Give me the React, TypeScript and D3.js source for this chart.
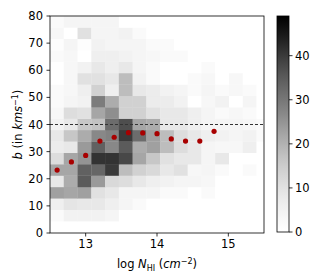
import React from 'react';
import * as d3 from 'd3';

// bin edges of the 2D histogram
const xEdges = [12.5, 12.693, 12.886, 13.079, 13.272, 13.465, 13.658, 13.851, 14.044, 14.237, 14.43, 14.623, 14.816, 15.009, 15.202, 15.395, 15.588];
const bEdges = [0.2, 4.4, 8.6, 12.8, 17.0, 21.2, 25.4, 29.6, 33.8, 38.0, 42.2, 46.4, 50.6, 54.8, 59.0, 63.2, 67.4, 71.6, 75.8, 80.0];

// counts[row][col], row 0 = lowest b bin
const counts = [
  [0, 0, 0, 0, 0, 0, 0, 0, 0, 0, 0, 0, 0, 0, 0, 0],
  [2, 5, 5, 5, 4, 0, 0, 0, 0, 0, 0, 0, 0, 0, 0, 0],
  [6, 9, 8, 8, 6, 4, 2, 0, 0, 0, 0, 0, 0, 0, 0, 0],
  [23, 22, 23, 10, 8, 4, 4, 4, 2, 2, 0, 2, 0, 0, 0, 0],
  [8, 21, 35, 24, 12, 11, 8, 6, 5, 4, 4, 3, 0, 0, 0, 0],
  [22, 22, 34, 33, 40, 18, 14, 12, 8, 10, 3, 4, 2, 0, 2, 0],
  [11, 22, 25, 41, 41, 38, 22, 16, 10, 8, 8, 4, 8, 0, 0, 0],
  [7, 8, 24, 34, 27, 35, 21, 23, 18, 11, 8, 4, 3, 3, 6, 0],
  [8, 16, 21, 27, 28, 40, 32, 23, 18, 11, 8, 6, 5, 4, 5, 2],
  [5, 8, 16, 17, 32, 37, 22, 21, 8, 8, 6, 4, 4, 4, 3, 2],
  [3, 11, 10, 22, 26, 14, 14, 10, 8, 8, 6, 4, 2, 3, 2, 0],
  [2, 4, 5, 29, 21, 14, 14, 7, 7, 5, 0, 3, 5, 0, 4, 0],
  [2, 3, 6, 14, 6, 18, 8, 7, 5, 4, 2, 4, 2, 3, 2, 0],
  [0, 3, 10, 10, 8, 18, 5, 2, 0, 0, 2, 3, 0, 3, 0, 0],
  [0, 3, 5, 8, 6, 8, 4, 2, 0, 0, 0, 2, 0, 0, 0, 0],
  [2, 3, 0, 6, 6, 5, 4, 3, 2, 2, 0, 0, 0, 0, 0, 0],
  [1, 4, 1, 5, 4, 4, 4, 2, 2, 0, 0, 0, 0, 0, 0, 0],
  [3, 0, 10, 4, 4, 5, 2, 0, 0, 0, 0, 0, 0, 0, 0, 0],
  [2, 4, 4, 4, 4, 0, 0, 0, 0, 0, 0, 0, 0, 0, 0, 0],
];

// binned medians (red dots)
const medLogN = [12.6, 12.8, 13.0, 13.2, 13.4, 13.6, 13.8, 14.0, 14.2, 14.4, 14.6, 14.8];
const medB = [23.2, 26.2, 28.6, 33.9, 35.3, 37.0, 36.9, 36.6, 34.7, 33.9, 33.9, 37.5];

const bCut = 40;
const xTicks = [13, 14, 15];
const bTicks = [0, 10, 20, 30, 40, 50, 60, 70, 80];
const cbarTicks = [0, 10, 20, 30, 40];
const cbarMax = 49;

const W = 314, H = 278;
const m = { left: 50, right: 264, top: 16, bottom: 233 };
const cb = { x: 277, w: 12 };
const font = "'DejaVu Sans', sans-serif";

export default function App() {
  const x = d3.scaleLinear().domain([12.5, 15.5]).range([m.left, m.right]);
  const y = d3.scaleLinear().domain([0, 80]).range([m.bottom, m.top]);
  const c = d3.scaleSequential(d3.interpolateGreys).domain([0, cbarMax]);
  const cy = d3.scaleLinear().domain([0, cbarMax]).range([m.bottom - 1, m.top]);

  const cells: { x0: number; x1: number; y0: number; y1: number; v: number }[] = [];
  counts.forEach((row, r) =>
    row.forEach((v, k) => {
      cells.push({ x0: xEdges[k], x1: xEdges[k + 1], y0: bEdges[r], y1: bEdges[r + 1], v });
    })
  );

  const stops = d3.range(0, 1.0001, 0.05);

  return (
    <svg width={W} height={H} style={{ position: 'absolute', left: 0, top: 0 }} fontFamily={font}>
      <defs>
        <clipPath id="plot">
          <rect x={m.left} y={m.top} width={m.right - m.left} height={m.bottom - m.top} />
        </clipPath>
        <linearGradient id="cbar" x1="0" y1="1" x2="0" y2="0">
          {stops.map((t) => (
            <stop key={t} offset={t} stopColor={d3.interpolateGreys(t)} />
          ))}
        </linearGradient>
      </defs>

      <rect x={m.left} y={m.top} width={m.right - m.left} height={m.bottom - m.top} fill="#fff" />
      <g clipPath="url(#plot)">
        {cells.map((d, i) => (
          <rect
            key={i}
            x={x(d.x0)}
            y={y(d.y1)}
            width={x(d.x1) - x(d.x0) + 0.3}
            height={y(d.y0) - y(d.y1) + 0.3}
            fill={c(d.v)}
          />
        ))}
        <line x1={m.left} x2={m.right} y1={y(bCut)} y2={y(bCut)} stroke="#333" strokeWidth={1} strokeDasharray="3,2" />
        {medLogN.map((v, i) => (
          <circle key={i} cx={x(v)} cy={y(medB[i])} r={2.6} fill="#a80000" />
        ))}
      </g>
      <rect x={m.left} y={m.top} width={m.right - m.left} height={m.bottom - m.top} fill="none" stroke="#000" strokeWidth={0.8} />

      {/* x axis */}
      {xTicks.map((t) => (
        <g key={t}>
          <line x1={x(t)} x2={x(t)} y1={m.bottom} y2={m.bottom + 3.5} stroke="#000" strokeWidth={0.8} />
          <text x={x(t)} y={m.bottom + 15} fontSize={11.5} textAnchor="middle">{t}</text>
        </g>
      ))}
      {/* y axis */}
      {bTicks.map((t) => (
        <g key={t}>
          <line x1={m.left - 3.5} x2={m.left} y1={y(t)} y2={y(t)} stroke="#000" strokeWidth={0.8} />
          <text x={m.left - 7} y={y(t) + 4} fontSize={11.5} textAnchor="end">{t}</text>
        </g>
      ))}

      <text x={(m.left + m.right) / 2} y={268} fontSize={11.5} textAnchor="middle">
        log <tspan fontStyle="italic">N</tspan>
        <tspan fontSize={8} dy={3}>HI</tspan>
        <tspan dy={-3}> (</tspan>
        <tspan fontStyle="italic">cm</tspan>
        <tspan fontSize={8} dy={-4.5}>−2</tspan>
        <tspan dy={4.5}>)</tspan>
      </text>

      <text transform={`translate(22,${(m.top + m.bottom) / 2}) rotate(-90)`} fontSize={11.5} textAnchor="middle">
        <tspan fontStyle="italic">b</tspan> (in <tspan fontStyle="italic">kms</tspan>
        <tspan fontSize={8} dy={-4.5}>−1</tspan>
        <tspan dy={4.5}>)</tspan>
      </text>

      {/* colorbar */}
      <rect x={cb.x} y={cy(cbarMax)} width={cb.w} height={cy(0) - cy(cbarMax)} fill="url(#cbar)" stroke="#000" strokeWidth={0.8} />
      {cbarTicks.map((t) => (
        <g key={t}>
          <line x1={cb.x + cb.w} x2={cb.x + cb.w + 3.5} y1={cy(t)} y2={cy(t)} stroke="#000" strokeWidth={0.8} />
          <text x={cb.x + cb.w + 6} y={cy(t) + 4} fontSize={11.5}>{t}</text>
        </g>
      ))}
    </svg>
  );
}
